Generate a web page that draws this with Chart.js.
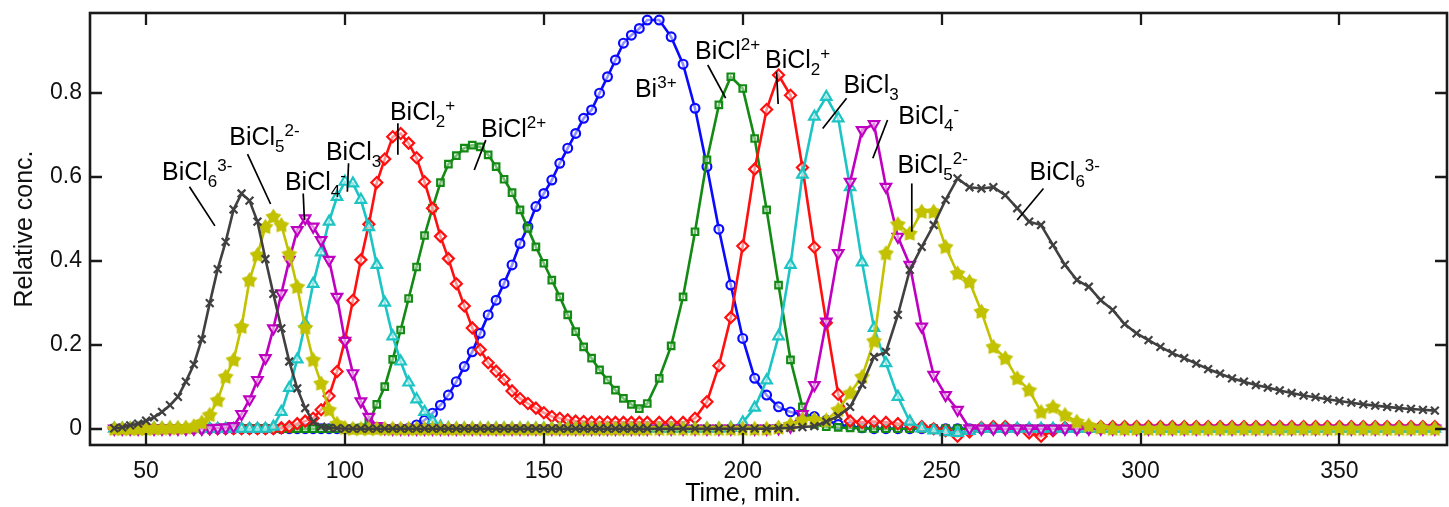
<!DOCTYPE html>
<html>
<head>
<meta charset="utf-8">
<title>Bi(III) chloro species</title>
<script src="https://cdn.jsdelivr.net/npm/chart.js@4.4.1/dist/chart.umd.min.js"></script>
<style>
  html, body { margin: 0; padding: 0; background: #fff; }
  canvas { display: block; }
</style>
</head>
<body>
<canvas id="speciation" width="1449" height="507"></canvas>
<script>
// elution time, min (2 min steps, then 3 min steps)
const timeMin = [
  42, 44, 46, 48, 50, 52, 54, 56, 58, 60,
  62, 64, 66, 68, 70, 72, 74, 76, 78, 80,
  82, 84, 86, 88, 90, 92, 94, 96, 98, 100,
  102, 104, 106, 108, 110, 112, 114, 116, 118, 120,
  122, 124, 126, 128, 130, 132, 134, 136, 138, 140,
  142, 144, 146, 148, 150, 152, 154, 156, 158, 160,
  162, 164, 166, 168, 170, 172, 174, 176,
  179, 182, 185, 188, 191, 194, 197, 200, 203, 206,
  209, 212, 215, 218, 221, 224, 227, 230, 233, 236,
  239, 242, 245, 248, 251, 254, 257, 260, 263, 266,
  269, 272, 275, 278, 281, 284, 287, 290, 293, 296,
  299, 302, 305, 308, 311, 314, 317, 320, 323, 326,
  329, 332, 335, 338, 341, 344, 347, 350, 353, 356,
  359, 362, 365, 368, 371, 374
];

// relative concentration of each species
const bi3 = [
  0, 0, 0, 0, 0, 0, 0, 0, 0, 0,
  0, 0, 0, 0, 0, 0, 0, 0, 0, 0,
  0, 0, 0, 0, 0, 0, 0, 0, 0, 0,
  0, 0, 0, 0, 0, 0, 0, 0.001, 0.009, 0.020,
  0.037, 0.056, 0.080, 0.112, 0.148, 0.183, 0.227, 0.271, 0.306, 0.346,
  0.390, 0.441, 0.481, 0.529, 0.560, 0.592, 0.632, 0.668, 0.703, 0.739,
  0.759, 0.799, 0.838, 0.878, 0.918, 0.937, 0.953, 0.973,
  0.973, 0.933, 0.868, 0.763, 0.624, 0.475, 0.342, 0.215, 0.120, 0.080,
  0.052, 0.040, 0.033, 0.029, 0.020, 0.010, 0.005, 0.002, 0, 0,
  0, 0, 0, 0, 0, 0, 0, 0, 0, 0,
  0, 0, 0, 0, 0, 0, 0, 0, 0, 0,
  0, 0, 0, 0, 0, 0, 0, 0, 0, 0,
  0, 0, 0, 0, 0, 0, 0, 0, 0, 0,
  0, 0, 0, 0, 0, 0
];
const biCl = [
  0, 0, 0, 0, 0, 0, 0, 0, 0, 0,
  0, 0, 0, 0, 0, 0, 0, 0, 0, 0,
  0, 0, 0, 0, 0, 0, 0, 0, 0, 0,
  0.001, 0.002, 0.015, 0.058, 0.100, 0.165, 0.235, 0.310, 0.385, 0.460,
  0.525, 0.586, 0.630, 0.650, 0.668, 0.675, 0.671, 0.652, 0.624, 0.594,
  0.562, 0.521, 0.477, 0.433, 0.394, 0.354, 0.314, 0.271, 0.231, 0.195,
  0.168, 0.140, 0.116, 0.092, 0.072, 0.058, 0.048, 0.060,
  0.120, 0.197, 0.314, 0.469, 0.640, 0.771, 0.838, 0.810, 0.691, 0.521,
  0.342, 0.164, 0.052, 0.010, 0.005, 0.003, 0.002, 0.001, 0, 0,
  0, 0, 0, 0, 0, 0, 0, 0, 0, 0,
  0, 0, 0, 0, 0, 0, 0, 0, 0, 0,
  0, 0, 0, 0, 0, 0, 0, 0, 0, 0,
  0, 0, 0, 0, 0, 0, 0, 0, 0, 0,
  0, 0, 0, 0, 0, 0
];
const biCl2 = [
  0, 0, 0, 0, 0, 0, 0, 0, 0, 0,
  0, 0, 0, 0, 0, 0, 0, 0, 0, 0,
  0, 0.002, 0.005, 0.012, 0.018, 0.025, 0.045, 0.078, 0.136, 0.211,
  0.306, 0.402, 0.487, 0.586, 0.642, 0.695, 0.703, 0.680, 0.645, 0.588,
  0.525, 0.458, 0.405, 0.345, 0.292, 0.240, 0.188, 0.157, 0.137, 0.117,
  0.090, 0.072, 0.060, 0.049, 0.038, 0.029, 0.025, 0.021, 0.018, 0.017,
  0.016, 0.016, 0.016, 0.015, 0.015, 0.015, 0.015, 0.015,
  0.015, 0.015, 0.015, 0.025, 0.064, 0.150, 0.265, 0.435, 0.618, 0.760,
  0.842, 0.794, 0.622, 0.432, 0.252, 0.082, 0.018, 0.015, 0.017, 0.015,
  0.012, 0.010, 0.005, 0, -0.005, -0.018, -0.008, 0.003, 0.005, 0.005,
  0, -0.010, -0.018, -0.005, 0.003, 0.005, 0.005, 0.005, 0.005, 0.005,
  0.005, 0.005, 0.005, 0.005, 0.005, 0.005, 0.005, 0.005, 0.005, 0.005,
  0.005, 0.005, 0.005, 0.005, 0.005, 0.005, 0.005, 0.005, 0.005, 0.005,
  0.005, 0.005, 0.005, 0.005, 0.005, 0.005
];
const biCl3 = [
  0, 0, 0, 0, 0, 0, 0, 0, 0, 0,
  0, 0, 0, 0, 0, 0, 0, 0, 0, 0,
  0.005, 0.040, 0.097, 0.165, 0.250, 0.345, 0.420, 0.493, 0.552, 0.588,
  0.584, 0.545, 0.480, 0.390, 0.300, 0.220, 0.160, 0.110, 0.070, 0.040,
  0.018, 0.005, 0.001, 0, 0, 0, 0, 0, 0, 0,
  0, 0, 0, 0, 0, 0, 0, 0, 0, 0,
  0, 0, 0, 0, 0, 0, 0, 0,
  0, 0, 0, 0, 0, 0, 0.002, 0.015, 0.050, 0.115,
  0.220, 0.390, 0.605, 0.743, 0.790, 0.739, 0.575, 0.396, 0.240, 0.156,
  0.076, 0.017, 0.001, -0.004, -0.008, -0.010, -0.005, 0, 0, 0,
  0, 0, 0, 0, 0, 0, 0, 0, 0, 0,
  0, 0, 0, 0, 0, 0, 0, 0, 0, 0,
  0, 0, 0, 0, 0, 0, 0, 0, 0, 0,
  0, 0, 0, 0, 0, 0
];
const biCl4 = [
  0, 0, 0, 0, 0, 0, 0, 0, 0, 0,
  0, 0, 0.001, 0.002, 0.003, 0.006, 0.035, 0.070, 0.116, 0.168,
  0.239, 0.322, 0.402, 0.473, 0.501, 0.481, 0.449, 0.402, 0.314, 0.209,
  0.132, 0.065, 0.028, 0.006, 0.001, 0, 0, 0, 0, 0,
  0, 0, 0, 0, 0, 0, 0, 0, 0, 0,
  0, 0, 0, 0, 0, 0, 0, 0, 0, 0,
  0, 0, 0, 0, 0, 0, 0, 0,
  0, 0, 0, 0, 0, 0, 0, 0, 0, 0,
  0.001, 0.005, 0.035, 0.104, 0.255, 0.418, 0.588, 0.711, 0.725, 0.576,
  0.457, 0.390, 0.243, 0.128, 0.080, 0.045, 0.001, 0, 0, 0,
  0, 0, 0, 0, 0, 0, 0, 0, 0, 0,
  0, 0, 0, 0, 0, 0, 0, 0, 0, 0,
  0, 0, 0, 0, 0, 0, 0, 0, 0, 0,
  0, 0, 0, 0, 0, 0
];
const biCl5 = [
  0, 0, 0, 0, 0, 0.001, 0.001, 0.002, 0.002, 0.003,
  0.006, 0.015, 0.033, 0.068, 0.124, 0.164, 0.243, 0.354, 0.414, 0.481,
  0.505, 0.485, 0.416, 0.338, 0.241, 0.164, 0.108, 0.045, 0.012, 0.002,
  0, 0, 0, 0, 0, 0, 0, 0, 0, 0,
  0, 0, 0, 0, 0, 0, 0, 0, 0, 0,
  0, 0, 0, 0, 0, 0, 0, 0, 0, 0,
  0, 0, 0, 0, 0, 0, 0, 0,
  0, 0, 0, 0, 0, 0, 0, 0, 0, 0,
  0.003, 0.010, 0.021, 0.022, 0.020, 0.045, 0.085, 0.124, 0.209, 0.418,
  0.487, 0.465, 0.517, 0.517, 0.433, 0.370, 0.350, 0.279, 0.195, 0.168,
  0.120, 0.092, 0.040, 0.052, 0.033, 0.017, 0.008, 0.003, 0, 0,
  0, 0, 0, 0, 0, 0, 0, 0, 0, 0,
  0, 0, 0, 0, 0, 0, 0, 0, 0, 0,
  0, 0, 0, 0, 0, 0
];
const biCl6 = [
  0.001, 0.003, 0.008, 0.012, 0.019, 0.027, 0.040, 0.056, 0.076, 0.112,
  0.153, 0.213, 0.299, 0.380, 0.445, 0.522, 0.560, 0.543, 0.493, 0.404,
  0.321, 0.239, 0.160, 0.096, 0.049, 0.017, 0.005, 0.002, 0.001, 0,
  0, 0, 0, 0, 0, 0, 0, 0, 0, 0,
  0, 0, 0, 0, 0, 0, 0, 0, 0, 0,
  0, 0, 0, 0, 0, 0, 0, 0, 0, 0,
  0, 0, 0, 0, 0, 0, 0, 0,
  0, 0, 0, 0, 0, 0, 0, 0, 0, 0,
  0.001, 0.002, 0.004, 0.006, 0.017, 0.030, 0.052, 0.105, 0.171, 0.183,
  0.271, 0.378, 0.433, 0.485, 0.545, 0.596, 0.575, 0.572, 0.575, 0.556,
  0.525, 0.493, 0.485, 0.437, 0.390, 0.354, 0.338, 0.306, 0.283, 0.249,
  0.227, 0.211, 0.195, 0.180, 0.168, 0.155, 0.142, 0.131, 0.120, 0.112,
  0.104, 0.098, 0.091, 0.085, 0.079, 0.075, 0.070, 0.066, 0.062, 0.058,
  0.055, 0.052, 0.049, 0.047, 0.045, 0.043
];

const xTicks = [50, 100, 150, 200, 250, 300, 350];
const yTicks = [0, 0.2, 0.4, 0.6, 0.8];

const FONT = '"Liberation Sans", Arial, sans-serif';

// filled five-point star used for BiCl5(2-)
function starMarker(color, r) {
  const c = document.createElement('canvas');
  const s = Math.ceil(r * 2 + 3);
  c.width = s; c.height = s;
  const g = c.getContext('2d');
  g.translate(s / 2, s / 2 + 0.5);
  g.beginPath();
  for (let k = 0; k < 10; k++) {
    const rad = k % 2 ? r * 0.6 : r;
    const a = -Math.PI / 2 + k * Math.PI / 5;
    g.lineTo(rad * Math.cos(a), rad * Math.sin(a));
  }
  g.closePath();
  g.fillStyle = color;
  g.fill();
  g.strokeStyle = color;
  g.lineWidth = 1.6;
  g.stroke();
  return c;
}

// top of the list is drawn on top
const series = [
  { name: 'BiCl6 3-', values: biCl6, color: '#404040', style: 'crossRot', radius: 5.5, fill: '#404040' },
  { name: 'BiCl5 2-', values: biCl5, color: '#c2c200', style: starMarker('#c2c200', 7), radius: 7, fill: '#c2c200' },
  { name: 'BiCl4-', values: biCl4, color: '#c000c0', style: 'triangle', rotation: 180, radius: 6, fill: 'rgba(255,255,255,0.55)' },
  { name: 'BiCl3', values: biCl3, color: '#1cc4c4', style: 'triangle', radius: 6, fill: 'rgba(255,255,255,0.55)' },
  { name: 'BiCl2+', values: biCl2, color: '#ff1010', style: 'rectRot', radius: 5.5, fill: 'rgba(255,255,255,0.55)' },
  { name: 'BiCl2+ (mono)', values: biCl, color: '#138a13', style: 'rect', radius: 4.6, fill: 'rgba(255,255,255,0.45)' },
  { name: 'Bi3+', values: bi3, color: '#0a0aff', style: 'circle', radius: 4.4, fill: 'rgba(255,255,255,0.55)' }
];

// species labels: text parts (0 normal, 1 subscript, 2 superscript),
// anchor of the text and leader line, both in data units
const speciesLabels = [
  { parts: [['BiCl', 0], ['6', 1], ['3-', 2]], at: [54.0, 0.593], lead: [[60.9, 0.576], [67.3, 0.483]] },
  { parts: [['BiCl', 0], ['5', 1], ['2-', 2]], at: [70.9, 0.675], lead: [[75.5, 0.654], [81.3, 0.535]] },
  { parts: [['BiCl', 0], ['4', 1], ['-', 2]], at: [84.9, 0.568], lead: [[89.5, 0.560], [89.8, 0.497]] },
  { parts: [['BiCl', 0], ['3', 1]], at: [95.2, 0.640], lead: [[100.9, 0.632], [100.6, 0.564]] },
  { parts: [['BiCl', 0], ['2', 1], ['+', 2]], at: [111.3, 0.735], lead: [[113.3, 0.727], [113.3, 0.652]] },
  { parts: [['BiCl', 0], ['2+', 2]], at: [134.2, 0.695], lead: [[135.4, 0.687], [132.5, 0.616]] },
  { parts: [['Bi', 0], ['3+', 2]], at: [172.9, 0.790], lead: null },
  { parts: [['BiCl', 0], ['2+', 2]], at: [188.0, 0.880], lead: [[191.2, 0.866], [195.7, 0.787]] },
  { parts: [['BiCl', 0], ['2', 1], ['+', 2]], at: [205.6, 0.858], lead: [[208.5, 0.850], [208.9, 0.773]] },
  { parts: [['BiCl', 0], ['3', 1]], at: [225.3, 0.799], lead: [[226.1, 0.787], [220.1, 0.715]] },
  { parts: [['BiCl', 0], ['4', 1], ['-', 2]], at: [239.1, 0.725], lead: [[236.4, 0.735], [232.7, 0.644]] },
  { parts: [['BiCl', 0], ['5', 1], ['2-', 2]], at: [238.9, 0.608], lead: [[242.5, 0.584], [242.5, 0.469]] },
  { parts: [['BiCl', 0], ['6', 1], ['3-', 2]], at: [272.1, 0.592], lead: [[275.6, 0.572], [269.0, 0.497]] }
];

// frame with inward ticks, species labels and the x title
const decorations = {
  id: 'decorations',
  afterDatasetsDraw(chart) {
    const { ctx, chartArea: a, scales: { x, y } } = chart;
    ctx.save();
    ctx.strokeStyle = '#1a1a1a';
    ctx.lineWidth = 2.6;
    ctx.strokeRect(a.left, a.top, a.right - a.left, a.bottom - a.top);
    ctx.lineWidth = 2.3;
    const tl = 12;
    ctx.beginPath();
    xTicks.forEach(v => {
      const px = Math.round(x.getPixelForValue(v));
      ctx.moveTo(px, a.bottom); ctx.lineTo(px, a.bottom - tl);
      ctx.moveTo(px, a.top); ctx.lineTo(px, a.top + tl);
    });
    yTicks.forEach(v => {
      const py = Math.round(y.getPixelForValue(v));
      ctx.moveTo(a.left, py); ctx.lineTo(a.left + tl, py);
      ctx.moveTo(a.right, py); ctx.lineTo(a.right - tl, py);
    });
    ctx.stroke();

    ctx.fillStyle = '#000';
    ctx.strokeStyle = '#000';
    ctx.lineWidth = 1.7;
    ctx.textBaseline = 'alphabetic';
    ctx.textAlign = 'left';
    speciesLabels.forEach(lab => {
      let px = x.getPixelForValue(lab.at[0]);
      const py = y.getPixelForValue(lab.at[1]);
      lab.parts.forEach(([txt, kind]) => {
        ctx.font = (kind === 0 ? 25 : 17) + 'px ' + FONT;
        const dy = kind === 1 ? 7 : kind === 2 ? -9 : 0;
        ctx.fillText(txt, px, py + dy);
        px += ctx.measureText(txt).width;
      });
      if (lab.lead) {
        ctx.beginPath();
        ctx.moveTo(x.getPixelForValue(lab.lead[0][0]), y.getPixelForValue(lab.lead[0][1]));
        ctx.lineTo(x.getPixelForValue(lab.lead[1][0]), y.getPixelForValue(lab.lead[1][1]));
        ctx.stroke();
      }
    });

    ctx.font = '25px ' + FONT;
    ctx.textAlign = 'center';
    ctx.fillText('Time, min.', 743, 501);
    ctx.restore();
  }
};

const tickFont = { family: FONT, size: 23 };

new Chart(document.getElementById('speciation'), {
  type: 'line',
  data: {
    datasets: series.map((s, k) => ({
      label: s.name,
      data: timeMin.map((t, i) => ({ x: t, y: s.values[i] })),
      borderColor: s.color,
      borderWidth: 2.6,
      pointStyle: s.style,
      pointRadius: s.radius,
      pointRotation: s.rotation || 0,
      pointBorderWidth: 2.2,
      pointBorderColor: s.color,
      pointBackgroundColor: s.fill,
      tension: 0,
      fill: false,
      order: k
    }))
  },
  options: {
    responsive: false,
    devicePixelRatio: 1,
    animation: false,
    events: [],
    layout: { padding: { top: 13, right: 2, left: 0, bottom: 0 }, autoPadding: false },
    plugins: { legend: { display: false }, tooltip: { enabled: false } },
    scales: {
      x: {
        type: 'linear',
        min: 35.9,
        max: 377.05,
        grid: { display: false, drawTicks: false },
        border: { display: false },
        ticks: { font: tickFont, color: '#111', padding: 13, maxRotation: 0 },
        afterBuildTicks: s => { s.ticks = xTicks.map(v => ({ value: v })); },
        afterFit: s => { s.height = 62; s.paddingLeft = 0; s.paddingRight = 0; }
      },
      y: {
        type: 'linear',
        min: -0.0388,
        max: 0.9898,
        grid: { display: false, drawTicks: false },
        border: { display: false },
        ticks: { font: tickFont, color: '#111', padding: 8 },
        afterBuildTicks: s => { s.ticks = yTicks.map(v => ({ value: v })); },
        afterFit: s => { s.width = 90; s.paddingTop = 0; s.paddingBottom = 0; },
        title: {
          display: true,
          text: 'Relative conc.',
          font: { family: FONT, size: 25 },
          color: '#111',
          padding: { top: 10, bottom: 0 }
        }
      }
    }
  },
  plugins: [decorations]
});
</script>
</body>
</html>
